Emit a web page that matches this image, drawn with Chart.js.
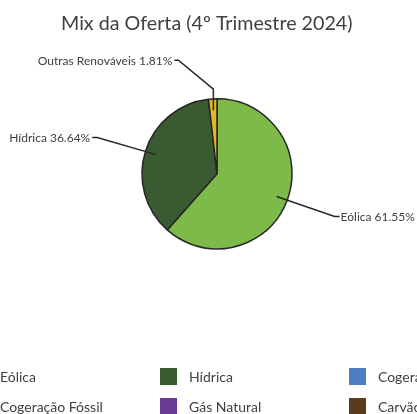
<!DOCTYPE html>
<html lang="pt">
<head>
<meta charset="utf-8">
<title>Mix da Oferta</title>
<script src="https://cdn.jsdelivr.net/npm/chart.js@4.4.1/dist/chart.umd.min.js"></script>
<style>
  html, body { margin: 0; padding: 0; background: #fff; overflow: hidden; }
  #wrap { position: relative; width: 417px; height: 414px; overflow: hidden; }
  #legend { position: absolute; left: 0; top: 0; width: 417px; height: 414px; font-family: Lato, sans-serif; font-size: 14px; color: #404040; }
  .lg-box { position: absolute; width: 17px; height: 17px; }
  .lg-text { position: absolute; line-height: 17px; white-space: nowrap; }
</style>
</head>
<body>
<div id="wrap">
  <canvas id="chart-mix" width="417" height="414"></canvas>
  <div id="legend"></div>
</div>
<script>
  // Dados do gráfico
  var TITLE = 'Mix da Oferta (4º Trimestre 2024)';
  var categories = ['Eólica', 'Hídrica', 'Cogeração Renovável', 'Cogeração Fóssil', 'Gás Natural', 'Carvão', 'Outras Renováveis'];
  var shares = [61.55, 36.64, 0, 0, 0, 0, 1.81];
  var colors = ['#7eba49', '#3a5b32', '#4f7dc3', '#a5a5a5', '#6b3a96', '#5b3a1e', '#e2b624'];

  // Linhas de chamada das etiquetas (deslocamentos a partir do ponto de ancoragem)
  var callouts = {
    0: { pts: [[58, 20], [63, 20]], align: 'left' },
    1: { pts: [[-59, -17], [-64, -17]], align: 'right' },
    6: { pts: [[0, -21], [-35, -50], [-39, -50]], align: 'right' }
  };

  var calloutPlugin = {
    id: 'callouts',
    afterDatasetsDraw: function(chart) {
      var ctx = chart.ctx;
      var meta = chart.getDatasetMeta(0);
      ctx.save();
      meta.data.forEach(function(arc, i) {
        var c = callouts[i];
        if (!c) return;
        var p = arc.getProps(['x', 'y', 'startAngle', 'endAngle', 'outerRadius'], true);
        var mid = (p.startAngle + p.endAngle) / 2;
        var ax = p.x + Math.cos(mid) * p.outerRadius * 0.85;
        var ay = p.y + Math.sin(mid) * p.outerRadius * 0.85;
        ctx.beginPath();
        ctx.moveTo(ax, ay);
        c.pts.forEach(function(o) { ctx.lineTo(ax + o[0], ay + o[1]); });
        ctx.strokeStyle = '#262626';
        ctx.lineWidth = 1.5;
        ctx.stroke();
        var last = c.pts[c.pts.length - 1];
        var tx = ax + last[0] + (c.align === 'left' ? 1 : -2);
        var ty = ay + last[1] + 1;
        ctx.font = '12px Lato, sans-serif';
        ctx.fillStyle = '#404040';
        ctx.textAlign = c.align;
        ctx.textBaseline = 'middle';
        ctx.fillText(categories[i] + ' ' + shares[i].toFixed(2) + '%', tx, ty);
      });
      ctx.restore();
    }
  };

  // Legenda em grelha de 3 colunas
  function buildLegend() {
    var el = document.getElementById('legend');
    var colW = 189;
    el.innerHTML = categories.map(function(name, i) {
      var col = i % 3;
      var row = Math.floor(i / 3);
      var x = col * colW;
      var y = 368 + row * 30;
      return '<div class="lg-box" style="left:' + (x - 29) + 'px;top:' + y + 'px;background:' + colors[i] + '"></div>' +
        '<div class="lg-text" style="left:' + x + 'px;top:' + y + 'px">' + name + '</div>';
    }).join('');
  }

  Chart.defaults.font.family = 'Lato, sans-serif';
  Chart.defaults.color = '#404040';

  new Chart(document.getElementById('chart-mix'), {
    type: 'pie',
    data: {
      labels: categories,
      datasets: [{
        data: shares,
        backgroundColor: colors,
        borderColor: '#262626',
        borderWidth: 1.5,
        radius: 75
      }]
    },
    options: {
      responsive: false,
      animation: false,
      layout: { padding: { left: 61, right: 44, top: 0, bottom: 112 } },
      plugins: {
        legend: { display: false },
        tooltip: { enabled: false },
        title: {
          display: true,
          text: TITLE,
          align: 'start',
          color: '#404040',
          font: { size: 19.7, weight: 'normal' },
          padding: { top: 12, bottom: 10 }
        }
      }
    },
    plugins: [calloutPlugin]
  });

  buildLegend();
</script>
</body>
</html>
